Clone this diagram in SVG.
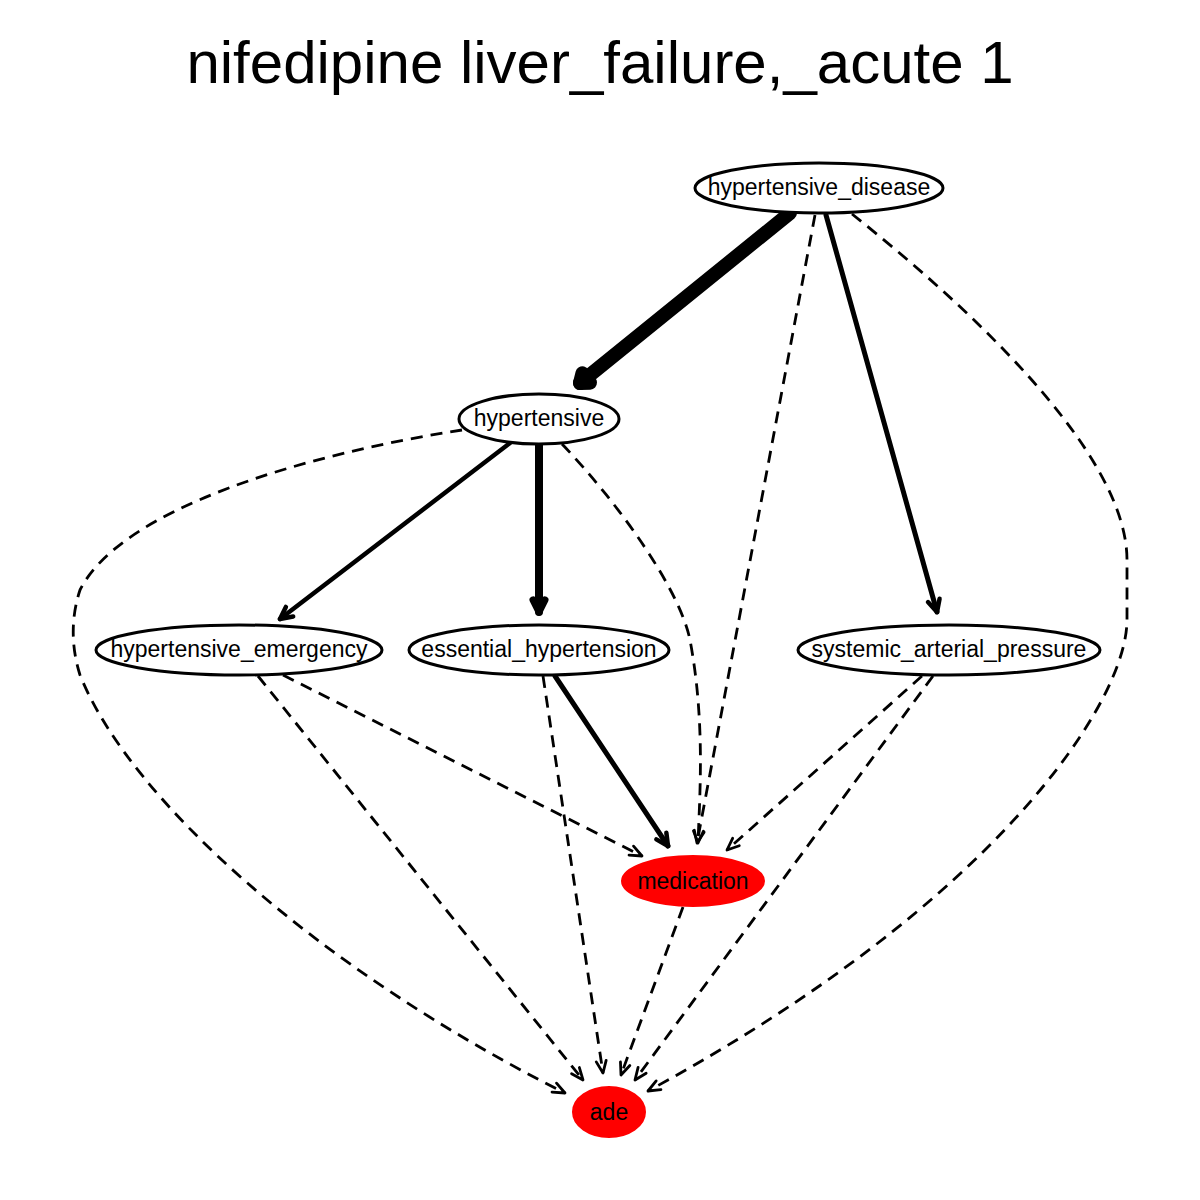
<svg xmlns="http://www.w3.org/2000/svg" width="1200" height="1200" viewBox="0 0 1200 1200">
<style>
text{font-family:"Liberation Sans",Arial,sans-serif;fill:#000;text-anchor:middle}
.lbl{font-size:23px}
.title{font-size:60px}
.n{fill:#fff;stroke:#000;stroke-width:3}
.r{fill:#ff0000;stroke:#ff0000;stroke-width:2}
.e{fill:none;stroke:#000;stroke-linecap:round}
.d{stroke-width:2.8;stroke-dasharray:12,8;stroke-linecap:butt;marker-end:url(#md)}
</style>
<defs>
<marker id="md" markerUnits="userSpaceOnUse" markerWidth="40" markerHeight="40" viewBox="-20 -20 40 40" refX="0" refY="0" orient="auto" overflow="visible"><path d="M-12,-5 L0,0 L-12,5" fill="none" stroke="#000" stroke-width="2.8" stroke-linecap="round" stroke-linejoin="round"/></marker>
<marker id="m4" markerUnits="userSpaceOnUse" markerWidth="40" markerHeight="40" viewBox="-20 -20 40 40" refX="0" refY="0" orient="auto" overflow="visible"><path d="M-12,-6 L0,0 L-12,6" fill="none" stroke="#000" stroke-width="4.5" stroke-linecap="round" stroke-linejoin="round"/></marker>
<marker id="m8" markerUnits="userSpaceOnUse" markerWidth="40" markerHeight="40" viewBox="-20 -20 40 40" refX="0" refY="0" orient="auto" overflow="visible"><path d="M-12,-6 L0,0 L-12,6" fill="none" stroke="#000" stroke-width="7" stroke-linecap="round" stroke-linejoin="round"/></marker>
<marker id="m14" markerUnits="userSpaceOnUse" markerWidth="40" markerHeight="40" viewBox="-20 -20 40 40" refX="0" refY="0" orient="auto" overflow="visible"><path d="M-8,-6 L0,0 L-8,6" fill="none" stroke="#000" stroke-width="14" stroke-linecap="round" stroke-linejoin="round"/></marker>
</defs>
<rect width="1200" height="1200" fill="#fff"/>
<text class="title" x="600" y="83">nifedipine liver_failure,_acute 1</text>
<g id="edges">
<path class="e" d="M790,213 L580,383" stroke-width="14" marker-end="url(#m14)"/>
<path class="e d" d="M815,215 L697,843"/>
<path class="e" d="M826,215 L937,612" stroke-width="5" marker-end="url(#m4)"/>
<path class="e d" d="M852,214 C960,300 1127,450 1127,560 L1127,620 C1127,700 1000,900 648,1091"/>
<path class="e" d="M510,443 L280,619" stroke-width="4.5" marker-end="url(#m4)"/>
<path class="e" d="M539,444 L539,612" stroke-width="8" marker-end="url(#m8)"/>
<path class="e d" d="M562,444 C620,505 680,590 690,640 C705,720 700,790 698,843"/>
<path class="e d" d="M462,430 C300,455 120,510 80,590 C70,620 72,650 80,675 C130,800 320,970 565,1093"/>
<path class="e d" d="M283,675 L642,856"/>
<path class="e d" d="M258,676 L583,1080"/>
<path class="e" d="M555,676 L668,846" stroke-width="5" marker-end="url(#m4)"/>
<path class="e d" d="M543,676 L603,1073"/>
<path class="e d" d="M922,676 L727,850"/>
<path class="e d" d="M933,676 L635,1080"/>
<path class="e d" d="M683,907 L621,1075"/>
</g>
<g id="hypertensive_disease"><ellipse class="n" cx="819" cy="188" rx="124" ry="25"/><text class="lbl" x="819" y="195">hypertensive_disease</text></g>
<g id="hypertensive"><ellipse class="n" cx="539" cy="419" rx="80" ry="25"/><text class="lbl" x="539" y="426">hypertensive</text></g>
<g id="hypertensive_emergency"><ellipse class="n" cx="239" cy="650" rx="143" ry="25"/><text class="lbl" x="239" y="657">hypertensive_emergency</text></g>
<g id="essential_hypertension"><ellipse class="n" cx="539" cy="650" rx="130" ry="25"/><text class="lbl" x="539" y="657">essential_hypertension</text></g>
<g id="systemic_arterial_pressure"><ellipse class="n" cx="949" cy="650" rx="151" ry="25"/><text class="lbl" x="949" y="657">systemic_arterial_pressure</text></g>
<g id="medication"><ellipse class="r" cx="693" cy="881" rx="71" ry="25"/><text class="lbl" x="693" y="889">medication</text></g>
<g id="ade"><ellipse class="r" cx="609" cy="1112" rx="36" ry="25"/><text class="lbl" x="609" y="1120">ade</text></g>
</svg>
